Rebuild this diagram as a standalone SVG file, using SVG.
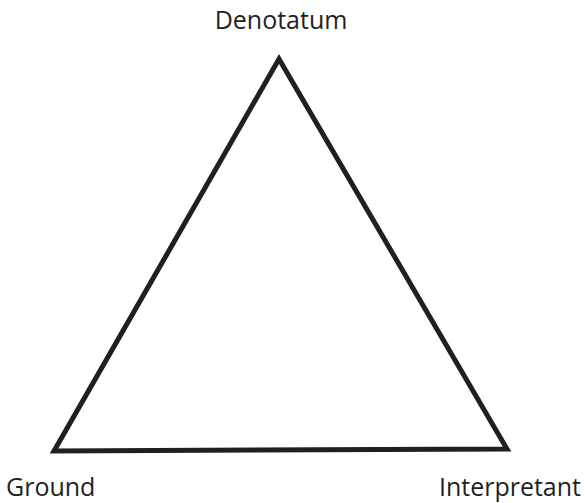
<svg xmlns="http://www.w3.org/2000/svg" width="585" height="503" viewBox="0 0 585 503">
<style>
.lbl{font-family:"Open Sans","Noto Sans",sans-serif;font-size:25px;fill:#231f20}
.tri{fill:none;stroke:#231f20;stroke-width:5;stroke-linejoin:miter}
</style>
<rect width="585" height="503" fill="#fff"/>
<g id="connectors">
<polygon class="tri" points="279,59 54,451 507,449"/>
</g>
<g id="denotatum"><text class="lbl" x="281" y="29" text-anchor="middle">Denotatum</text></g>
<g id="ground"><text class="lbl" x="6" y="496">Ground</text></g>
<g id="interpretant"><text class="lbl" x="581" y="496" text-anchor="end">Interpretant</text></g>
</svg>
